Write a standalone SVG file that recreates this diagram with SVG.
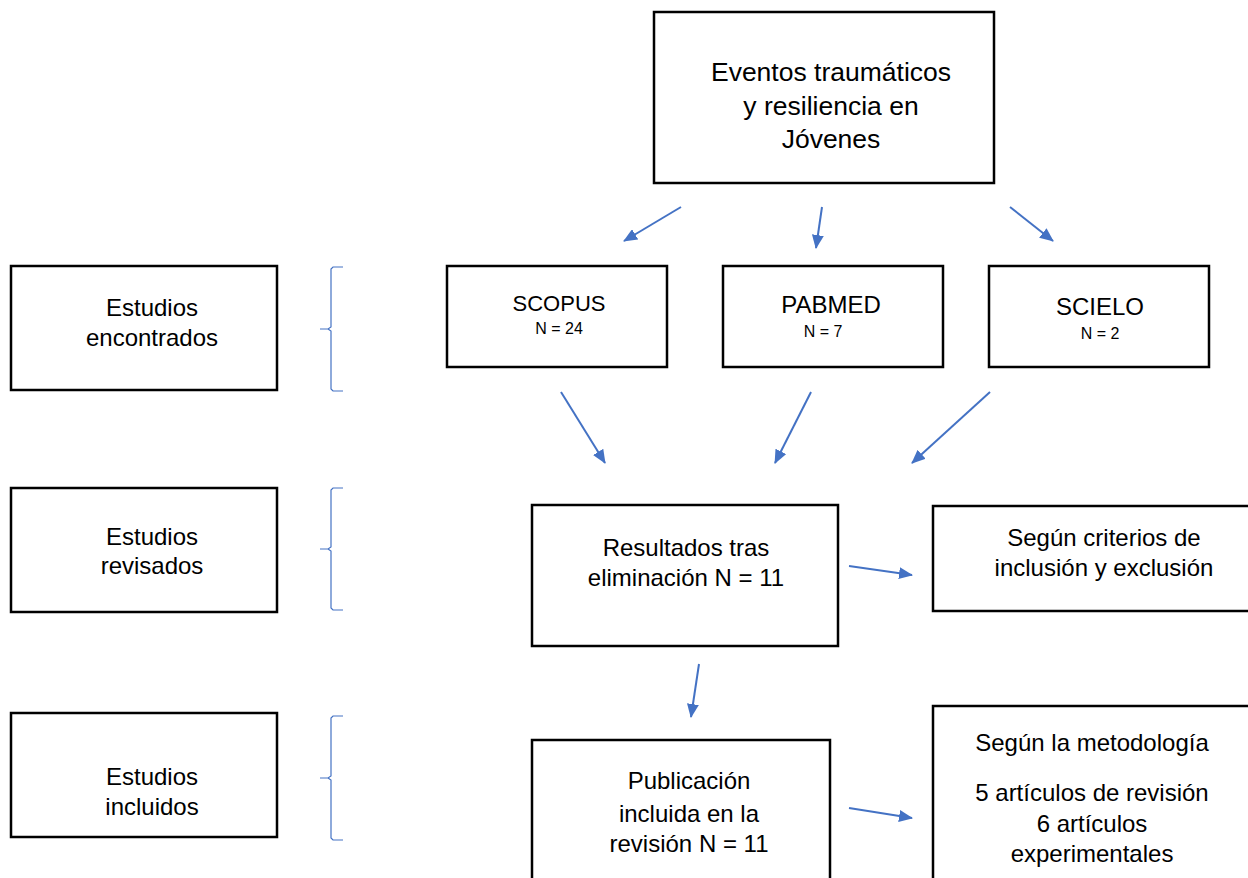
<svg xmlns="http://www.w3.org/2000/svg" width="1248" height="878" viewBox="0 0 1248 878">
<defs>
<marker id="ah" markerWidth="14" markerHeight="12" refX="13" refY="6" orient="auto" markerUnits="userSpaceOnUse" viewBox="0 0 14 12">
<path d="M0,0 L14,6 L0,12 z" fill="#4472C4"/>
</marker>
<style>
.box{fill:#fff;stroke:#000;stroke-width:2.5}
.t{font-family:"Liberation Sans",Arial,sans-serif;fill:#000;text-anchor:middle}
.c{stroke:#4472C4;stroke-width:2;fill:none}
.br{stroke:#4472C4;stroke-width:1.2;fill:none}
</style>
</defs>
<rect width="1248" height="878" fill="#fff"/>
<g id="top">
<rect class="box" x="654" y="12" width="340" height="171"/>
<text class="t" font-size="26.5"><tspan x="831" y="81">Eventos traumáticos</tspan><tspan x="831" y="115">y resiliencia en</tspan><tspan x="831" y="148">Jóvenes</tspan></text>
</g>
<g id="encontrados">
<rect class="box" x="11" y="266" width="266" height="124"/>
<text class="t" font-size="24"><tspan x="152" y="316">Estudios</tspan><tspan x="152" y="346">encontrados</tspan></text>
</g>
<g id="revisados">
<rect class="box" x="11" y="488" width="266" height="124"/>
<text class="t" font-size="24"><tspan x="152" y="545">Estudios</tspan><tspan x="152" y="574">revisados</tspan></text>
</g>
<g id="incluidos">
<rect class="box" x="11" y="713" width="266" height="124"/>
<text class="t" font-size="24"><tspan x="152" y="785">Estudios</tspan><tspan x="152" y="815">incluidos</tspan></text>
</g>
<g id="braces">
<path class="br" d="M343,267 L333,267 L331,269 L331,327 L328,329 L320,329 M328,329 L331,331 L331,389 L333,391 L343,391"/>
<path class="br" d="M343,488 L333,488 L331,490 L331,547 L328,549 L320,549 M328,549 L331,551 L331,608 L333,610 L343,610"/>
<path class="br" d="M343,716 L333,716 L331,718 L331,776 L328,778 L320,778 M328,778 L331,780 L331,838 L333,840 L343,840"/>
</g>
<g id="scopus">
<rect class="box" x="447" y="266" width="220" height="101"/>
<text class="t"><tspan x="559" y="311" font-size="22">SCOPUS</tspan><tspan x="559" y="334" font-size="16">N = 24</tspan></text>
</g>
<g id="pabmed">
<rect class="box" x="723" y="266" width="220" height="101"/>
<text class="t"><tspan x="831" y="313" font-size="24">PABMED</tspan><tspan x="823" y="337" font-size="16">N = 7</tspan></text>
</g>
<g id="scielo">
<rect class="box" x="989" y="266" width="220" height="101"/>
<text class="t"><tspan x="1100" y="315" font-size="24">SCIELO</tspan><tspan x="1100" y="339" font-size="16">N = 2</tspan></text>
</g>
<g id="resultados">
<rect class="box" x="532" y="505" width="306" height="141"/>
<text class="t" font-size="24"><tspan x="686" y="556">Resultados tras</tspan><tspan x="686" y="586">eliminación N = 11</tspan></text>
</g>
<g id="criterios">
<rect class="box" x="933" y="506" width="330" height="105"/>
<text class="t" font-size="24"><tspan x="1104" y="546">Según criterios de</tspan><tspan x="1104" y="576">inclusión y exclusión</tspan></text>
</g>
<g id="publicacion">
<rect class="box" x="532" y="740" width="298" height="160"/>
<text class="t" font-size="24"><tspan x="689" y="789">Publicación</tspan><tspan x="689" y="822">incluida en la</tspan><tspan x="689" y="852">revisión N = 11</tspan></text>
</g>
<g id="metodologia">
<rect class="box" x="933" y="706" width="330" height="190"/>
<text class="t" font-size="24"><tspan x="1092" y="751">Según la metodología</tspan><tspan x="1092" y="801">5 artículos de revisión</tspan><tspan x="1092" y="832">6 artículos</tspan><tspan x="1092" y="862">experimentales</tspan></text>
</g>
<g id="connectors">
<line class="c" x1="681" y1="207" x2="624" y2="241" marker-end="url(#ah)"/>
<line class="c" x1="822" y1="207" x2="816" y2="248" marker-end="url(#ah)"/>
<line class="c" x1="1010" y1="207" x2="1053" y2="241" marker-end="url(#ah)"/>
<line class="c" x1="561" y1="392" x2="605" y2="463" marker-end="url(#ah)"/>
<line class="c" x1="811" y1="392" x2="775" y2="463" marker-end="url(#ah)"/>
<line class="c" x1="990" y1="392" x2="912" y2="463" marker-end="url(#ah)"/>
<line class="c" x1="849" y1="566" x2="912" y2="575" marker-end="url(#ah)"/>
<line class="c" x1="699" y1="664" x2="691" y2="717" marker-end="url(#ah)"/>
<line class="c" x1="849" y1="808" x2="912" y2="818" marker-end="url(#ah)"/>
</g>
</svg>
